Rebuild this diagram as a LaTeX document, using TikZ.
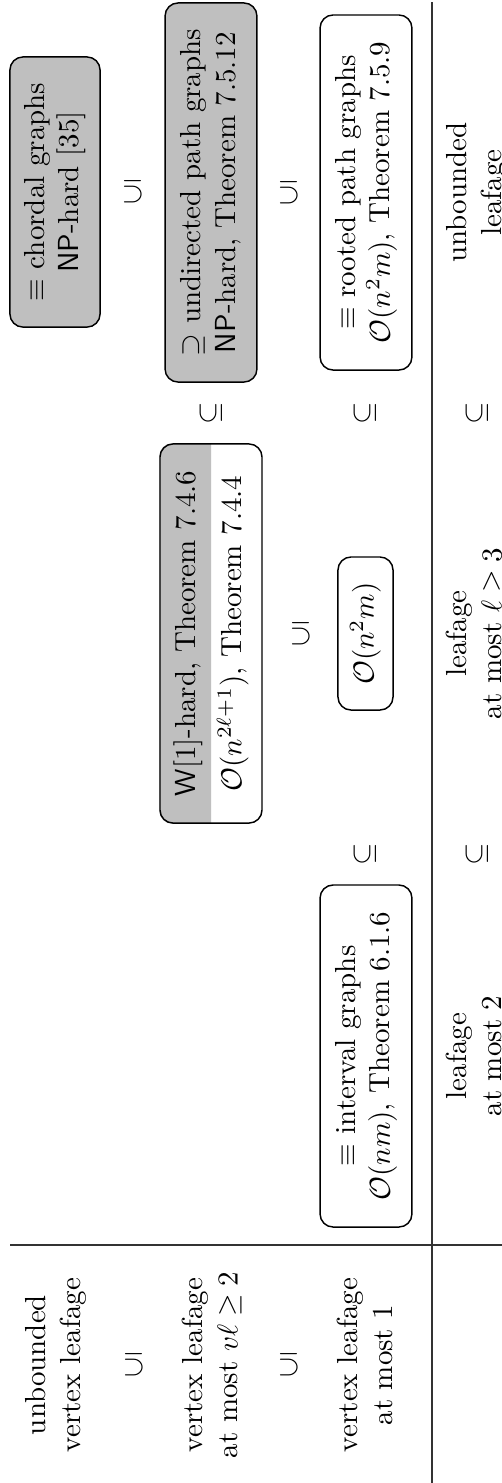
\documentclass[tikz,border=0pt]{standalone}
\usetikzlibrary{backgrounds}
\definecolor{cellgray}{gray}{0.75}
\begin{document}
\begin{tikzpicture}[x=0.345pt, y=-0.345pt,
  cls/.style={rotate=90, draw=black, line width=0.5pt, rounded corners=4.5pt,
    align=center, inner sep=0pt},
  hardcls/.style={cls, fill=cellgray},
  easycls/.style={cls, fill=white},
  hdr/.style={rotate=90, align=center, inner sep=0pt},
  vrel/.style={rotate=180, inner sep=0pt},
  hrel/.style={rotate=90, inner sep=0pt},
  gridline/.style={line width=0.4pt, draw=black!80}]
\useasboundingbox (0,0) rectangle (502,1483);
\clip (0,0) rectangle (502,1483);

% table rules
\draw[gridline] (432,2) -- (432,1483);
\draw[gridline] (10,1245) -- (502,1245);

% row headers (vertex leafage)
\node[hdr] (rowA) at (56,1365) {unbounded\\vertex leafage};
\node[vrel] (rA) at (134,1365) {$\subseteq$};
\node[hdr] (rowB) at (212,1365) {vertex leafage\\at most $v\ell \geq 2$};
\node[vrel] (rB) at (289,1365) {$\subseteq$};
\node[hdr] (rowC) at (365,1365) {vertex leafage\\at most 1};

% column headers (leafage)
\node[hdr] (colA) at (474,1056) {leafage\\at most 2};
\node[hrel] (hA) at (477,854) {$\subseteq$};
\node[hdr] (colB) at (476,633.5) {leafage\\at most $\ell \geq 3$};
\node[hrel] (hB) at (477,413) {$\subseteq$};
\node[hdr] (colC) at (477,192.5) {unbounded\\leafage};

% unbounded leafage column
\node[hardcls, minimum width=93.2pt, minimum height=31.1pt] (chordal) at (55,192)
  {$\equiv$ chordal graphs\\\textsf{NP}-hard [35]};
\node[vrel] (c1) at (133.5,192) {$\subseteq$};
\node[hardcls, minimum width=130.8pt, minimum height=31.7pt] (undirected) at (211,192.5)
  {$\supseteq$ undirected path graphs\\\textsf{NP}-hard, Theorem 7.5.12};
\node[vrel] (c2) at (289,192.5) {$\subseteq$};
\node[easycls, minimum width=122.5pt, minimum height=31.7pt] (rooted) at (366,192.5)
  {$\equiv$ rooted path graphs\\$\mathcal{O}(n^2m)$, Theorem 7.5.9};

% leafage at most l column: upper half shaded
\node[cls, minimum width=130.8pt, minimum height=35.2pt] (wone) at (211,633.5)
  {\textsf{W}[1]-hard, Theorem 7.4.6\\[4pt]$\mathcal{O}(n^{2\ell+1})$, Theorem 7.4.4};
\begin{scope}[on background layer]
  \fill[white] (0,0) rectangle (502,1483);
  \fill[cellgray] (wone.west) [rounded corners=4.5pt] -- (wone.north west)
    -- (wone.north east) [sharp corners] -- (wone.east) -- cycle;
\end{scope}
\node[vrel] (b1) at (301,633.5) {$\subseteq$};
\node[easycls, minimum width=52.8pt, minimum height=19pt] (onm) at (365.5,633.5)
  {$\mathcal{O}(n^2m)$};

% leafage at most 2 column
\node[easycls, minimum width=118pt, minimum height=31.7pt] (interval) at (366,1056)
  {$\equiv$ interval graphs\\$\mathcal{O}(nm)$, Theorem 6.1.6};

% inclusions between columns
\node[hrel] (h1) at (211,413) {$\subseteq$};
\node[hrel] (h2) at (365,413) {$\subseteq$};
\node[hrel] (h3) at (365,854) {$\subseteq$};
\end{tikzpicture}
\end{document}
